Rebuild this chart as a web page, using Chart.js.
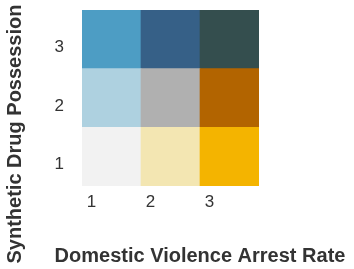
<!DOCTYPE html>
<html>
<head>
<meta charset="utf-8">
<script src="https://cdn.jsdelivr.net/npm/chart.js@4/dist/chart.umd.min.js"></script>
<style>
  html, body { margin: 0; padding: 0; background: #fff; }
  #wrap { width: 354px; height: 269px; position: relative; }
</style>
</head>
<body>
<div id="wrap"><canvas id="chart"></canvas></div>
<script>
// bivariate legend: x = domestic violence arrest rate class, y = synthetic drug possession class
const xLabels = ["1", "2", "3"];
const yLabels = ["1", "2", "3"];
const cellValue = [1, 1, 1];

// colours per row, bottom (1) to top (3), left to right
const row1Colors = ["#f2f2f2", "#f3e6b2", "#f4b400"];
const row2Colors = ["#aed1e0", "#b0b0b0", "#b26400"];
const row3Colors = ["#4d9dc4", "#366087", "#344e4e"];

const xTitle = "Domestic Violence Arrest Rate";
const yTitle = "Synthetic Drug Possession";

const rows = [row1Colors, row2Colors, row3Colors];

const titleFont = "bold 20px 'Liberation Sans', Arial, sans-serif";

// axis titles sit off-centre from the plot, so draw them here
const axisTitles = {
	id: "axisTitles",
	afterDraw(chart) {
		const ctx = chart.ctx;
		ctx.save();
		ctx.font = titleFont;
		ctx.fillStyle = "#333";
		ctx.textAlign = "center";
		ctx.textBaseline = "middle";
		ctx.fillText(xTitle, 200, 256);
		ctx.translate(15, 134);
		ctx.rotate(-Math.PI / 2);
		ctx.fillText(yTitle, 0, 0);
		ctx.restore();
	},
};

const data = {
	labels: xLabels,
	datasets: rows.map((colors, i) => ({
		label: yLabels[i],
		data: cellValue,
		backgroundColor: colors,
		borderWidth: 0,
		barPercentage: 1,
		categoryPercentage: 1,
	})),
};

const tickFont = { family: "'Liberation Sans', Arial, sans-serif", size: 17 };

const options = {
	responsive: true,
	maintainAspectRatio: false,
	animation: false,
	layout: { padding: { left: 0, right: 95, top: 10, bottom: 0 } },
	plugins: {
		legend: { display: false },
		tooltip: { enabled: false },
	},
	scales: {
		x: {
			stacked: true,
			grid: { display: false, drawTicks: false },
			border: { display: false },
			ticks: { font: tickFont, color: "#333", labelOffset: -20, padding: 6 },
			afterFit(scale) {
				scale.height = 83;
				scale.paddingLeft = 0;
				scale.paddingRight = 0;
			},
		},
		y: {
			stacked: true,
			min: 0,
			max: 3,
			grid: { display: false, drawTicks: false },
			border: { display: false },
			afterBuildTicks(scale) {
				scale.ticks = yLabels.map((l, i) => ({ value: i + 0.5 }));
			},
			ticks: {
				font: tickFont,
				color: "#333",
				padding: 18,
				labelOffset: 8,
				callback: (v, i) => yLabels[i],
			},
			afterFit(scale) {
				scale.width = 82;
				scale.paddingTop = 0;
				scale.paddingBottom = 0;
			},
		},
	},
};

new Chart(document.getElementById("chart"), {
	type: "bar",
	data: data,
	options: options,
	plugins: [axisTitles],
});
</script>
</body>
</html>
